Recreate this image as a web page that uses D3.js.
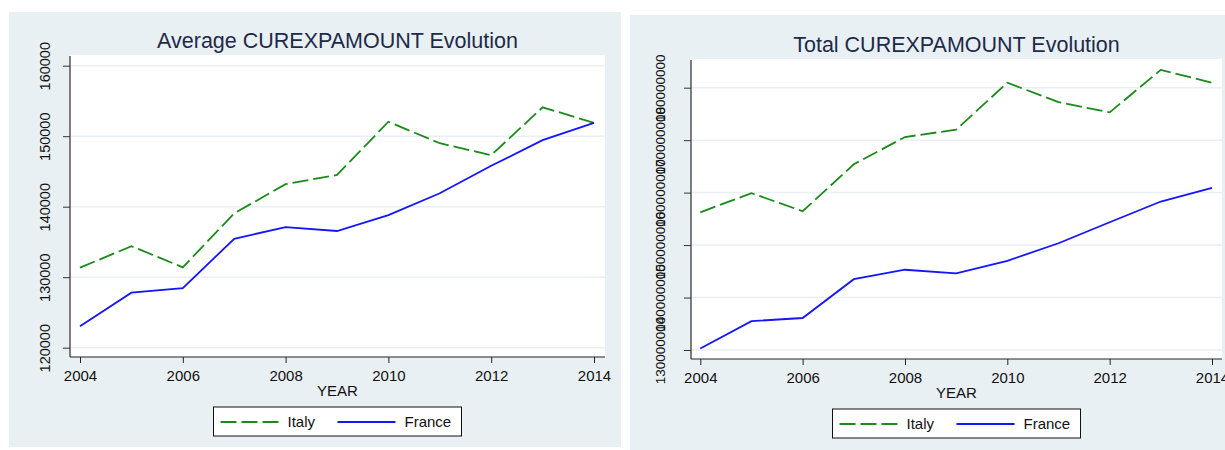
<!DOCTYPE html>
<html>
<head>
<meta charset="UTF-8">
<title>CUREXPAMOUNT Evolution</title>
<script src="https://d3js.org/d3.v7.min.js"></script>
<style>
  body { margin: 0; background: #fff; }
  svg { display: block; font-family: "Liberation Sans", Arial, sans-serif; }
  .grid line { stroke: #e9f0f3; stroke-width: 1.5px; }
  .italy { fill: none; stroke: #1a8a1a; stroke-width: 1.8px; stroke-dasharray: 16,5; }
  .france { fill: none; stroke: #1414ff; stroke-width: 1.8px; }
</style>
</head>
<body>
<svg id="chart" width="1225" height="450"></svg>
<script>
// data
var years = [2004, 2005, 2006, 2007, 2008, 2009, 2010, 2011, 2012, 2013, 2014];
var xTicks = [2004, 2006, 2008, 2010, 2012, 2014];

var avgItaly  = [131350, 134400, 131400, 139050, 143200, 144500, 152050, 149000, 147300, 154100, 151900];
var avgFrance = [123050, 127800, 128450, 135450, 137100, 136550, 138800, 141900, 145800, 149450, 151900];
var avgTicks  = [120000, 130000, 140000, 150000, 160000];

var totItaly  = [156250000, 159900000, 156450000, 165400000, 170600000, 172000000, 180950000, 177250000, 175300000, 183400000, 180950000];
var totFrance = [130300000, 135500000, 136100000, 143500000, 145300000, 144600000, 147000000, 150350000, 154350000, 158300000, 160900000];
var totTicks  = [130000000, 140000000, 150000000, 160000000, 170000000, 180000000];

var svg = d3.select("#chart");

var panels = [
  {title: "Average CUREXPAMOUNT Evolution", italy: avgItaly, france: avgFrance, ticks: avgTicks,
   bg: [9, 12, 612, 435], plot: [70, 55, 535, 302],
   xr: [80, 594], yd: [120000, 160000], yr: [347.7, 65.7], yFont: 14.5, yLab: 50},
  {title: "Total CUREXPAMOUNT Evolution", italy: totItaly, france: totFrance, ticks: totTicks,
   bg: [630, 15, 600, 435], plot: [691, 59, 531, 300],
   xr: [700.3, 1212], yd: [130000000, 180000000], yr: [350, 87.7], yFont: 13.5, yLab: 665}
];

panels.forEach(function(p) {
  var g = svg.append("g");
  var px = p.plot[0], py = p.plot[1], pw = p.plot[2], ph = p.plot[3];
  var bottom = py + ph;
  var cx = px + pw / 2;

  g.append("rect")
    .attr("x", p.bg[0]).attr("y", p.bg[1])
    .attr("width", p.bg[2]).attr("height", p.bg[3])
    .attr("fill", "#e9f0f3");

  g.append("rect")
    .attr("x", px).attr("y", py)
    .attr("width", pw).attr("height", ph)
    .attr("fill", "#fff");

  var x = d3.scaleLinear().domain([2004, 2014]).range(p.xr);
  var y = d3.scaleLinear().domain(p.yd).range(p.yr);

  // gridlines
  g.append("g").attr("class", "grid")
    .selectAll("line").data(p.ticks).enter().append("line")
    .attr("x1", px).attr("x2", px + pw)
    .attr("y1", function(d) { return y(d); })
    .attr("y2", function(d) { return y(d); });

  // y axis
  var yAxis = g.append("g")
    .attr("transform", "translate(" + px + ",0)")
    .call(d3.axisLeft(y).tickValues(p.ticks).tickSize(7).tickSizeOuter(0).tickFormat(d3.format("d")));
  yAxis.select(".domain").attr("d", "M0," + (py + 1) + "V" + bottom).attr("stroke", "#555").attr("stroke-width", 1.5);
  yAxis.selectAll(".tick line").attr("stroke", "#333");
  yAxis.selectAll(".tick text")
    .attr("x", null).attr("dy", null).attr("y", 0)
    .attr("text-anchor", "middle")
    .attr("fill", "#111")
    .style("font-size", p.yFont + "px")
    .attr("transform", "translate(" + (p.yLab - px) + ",0) rotate(-90)");

  // x axis
  var xAxis = g.append("g")
    .attr("transform", "translate(0," + bottom + ")")
    .call(d3.axisBottom(x).tickValues(xTicks).tickSize(6).tickSizeOuter(0).tickFormat(d3.format("d")));
  xAxis.select(".domain").attr("d", "M" + px + ",0H" + (px + pw)).attr("stroke", "#222").attr("stroke-width", 1.2);
  xAxis.selectAll(".tick line").attr("stroke", "#222");
  xAxis.selectAll(".tick text")
    .attr("y", 24).attr("dy", null)
    .attr("fill", "#111")
    .style("font-size", "15px");

  g.append("text")
    .attr("x", cx).attr("y", bottom + 39)
    .attr("text-anchor", "middle")
    .attr("fill", "#111")
    .style("font-size", "15px")
    .text("YEAR");

  // title
  g.append("text")
    .attr("x", cx).attr("y", py - 7)
    .attr("text-anchor", "middle")
    .attr("fill", "#1e2a4a")
    .style("font-size", "21.5px")
    .text(p.title);

  // lines
  var line = d3.line()
    .x(function(d, i) { return x(years[i]); })
    .y(function(d) { return y(d); });

  g.append("path").attr("class", "italy").attr("d", line(p.italy));
  g.append("path").attr("class", "france").attr("d", line(p.france));

  // legend
  var lx = cx - 124, ly = bottom + 50;
  var leg = g.append("g").attr("transform", "translate(" + lx + "," + ly + ")");
  leg.append("rect").attr("x", 0).attr("y", 0).attr("width", 248).attr("height", 29)
    .attr("fill", "#fff").attr("stroke", "#111").attr("stroke-width", 1);
  leg.append("line").attr("class", "italy").attr("x1", 7).attr("x2", 65).attr("y1", 15).attr("y2", 15);
  leg.append("text").attr("x", 74).attr("y", 20).attr("fill", "#111").style("font-size", "15px").text("Italy");
  leg.append("line").attr("class", "france").attr("x1", 124).attr("x2", 182).attr("y1", 15).attr("y2", 15);
  leg.append("text").attr("x", 191).attr("y", 20).attr("fill", "#111").style("font-size", "15px").text("France");
});
</script>
</body>
</html>
